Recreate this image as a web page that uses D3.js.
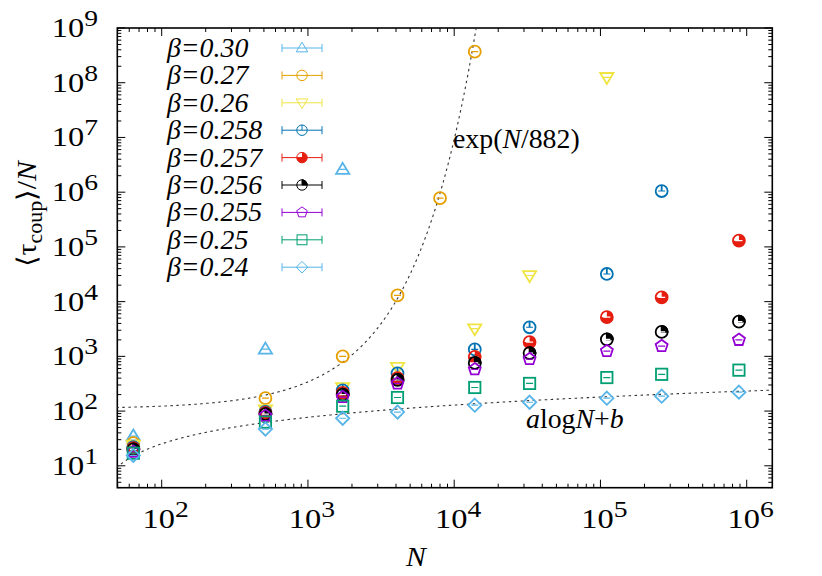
<!DOCTYPE html>
<html><head><meta charset="utf-8">
<script src="https://cdn.jsdelivr.net/npm/d3@7"></script>
<style>html,body{margin:0;padding:0;background:#fff;} svg{display:block;} text{font-family:"Liberation Serif","Times New Roman",serif;}</style>
</head><body>
<svg id="chart" width="822" height="576"></svg>
<script>
// ---- data ----
const sizesN = [64, 512, 1728, 4096, 8000, 13824, 32768, 110592, 262144, 884736];
const betaLabels = ["β=0.30", "β=0.27", "β=0.26", "β=0.258", "β=0.257", "β=0.256", "β=0.255", "β=0.25", "β=0.24"];
const tau030  = [35, 1350, 2.6e6, null, null, null, null, null, null, null];
const tau027  = [26, 172, 1000, 1.3e4, 7.8e5, 3.7e8, null, null, null, null];
const tau026  = [24, 105, 270, 630, null, 3200, 3.0e4, 1.25e8, null, null];
const tau0258 = [22, 97, 240, 490, null, 1340, 3400, 3.2e4, 1.05e6, null];
const tau0257 = [21, 93, 215, 400, null, 980, 1820, 5200, 1.2e4, 1.3e5];
const tau0256 = [20, 88, 200, 370, null, 760, 1150, 2050, 2800, 4300];
const tau0255 = [18, 82, 180, 320, null, 580, 890, 1250, 1540, 2000];
const tau025  = [17, 63, 123, 177, null, 270, 320, 410, 470, 560];
const tau024  = [15.5, 47, 74, 96, null, 128, 145, 172, 187, 222];
const xTickExps = [2, 3, 4, 5, 6];
const yTickExps = [1, 2, 3, 4, 5, 6, 7, 8, 9];
// fit parameters
const expFitA = 110, expFitScale = 882;
const logFitA = 51.8, logFitB = -78.4;

const seriesValues = [tau030, tau027, tau026, tau0258, tau0257, tau0256, tau0255, tau025, tau024];
const colors = ["#56b4e9", "#e69f00", "#f0e442", "#0072b2", "#e51e10", "#000000", "#9400d3", "#009e73", "#56b4e9"];
const shapes = ["triUp", "circle", "triDown", "circleV", "circleQR", "circleQB", "pentagon", "square", "diamond"];

// ---- layout ----
const L = 117.3, R = 772.3, T = 28, B = 487.7;
const svg = d3.select("#chart");
const x = d3.scaleLog().domain([Math.pow(10, 1.6965), Math.pow(10, 6.175)]).range([L, R]);
const y = d3.scaleLog().domain([Math.pow(10, 0.6), 1e9]).range([B, T]);

svg.append("defs").append("clipPath").attr("id", "clip")
  .append("rect").attr("x", L).attr("y", T).attr("width", R - L).attr("height", B - T);

// ---- ticks (all four sides, inward) ----
const tickG = svg.append("g").attr("stroke", "#000").attr("stroke-width", 1);
const xMin = x.domain()[0], xMax = x.domain()[1];
for (let e = 1; e <= 6; e++) {
  for (let m = 1; m <= 9; m++) {
    const v = m * Math.pow(10, e);
    if (v < xMin || v > xMax) continue;
    const px = x(v), len = m === 1 ? 8 : 4;
    tickG.append("line").attr("x1", px).attr("x2", px).attr("y1", B).attr("y2", B - len);
    tickG.append("line").attr("x1", px).attr("x2", px).attr("y1", T).attr("y2", T + len);
  }
}
const yMin = y.domain()[0], yMax = y.domain()[1];
for (let e = 0; e <= 9; e++) {
  for (let m = 1; m <= 9; m++) {
    const v = m * Math.pow(10, e);
    if (v < yMin || v > yMax * 1.0001) continue;
    const py = y(v), len = m === 1 ? 8 : 4;
    tickG.append("line").attr("y1", py).attr("y2", py).attr("x1", L).attr("x2", L + len);
    tickG.append("line").attr("y1", py).attr("y2", py).attr("x1", R).attr("x2", R - len);
  }
}

// ---- frame ----
svg.append("rect").attr("x", L).attr("y", T).attr("width", R - L).attr("height", B - T)
  .attr("fill", "none").attr("stroke", "#000").attr("stroke-width", 1.6);

// ---- tick labels ----
function powLabel(px, py, exp, anchor, sx) {
  const t = svg.append("text")
    .attr("transform", `translate(${px},${py}) scale(${sx},1)`)
    .attr("text-anchor", anchor)
    .attr("font-size", 27).attr("fill", "#000");
  t.append("tspan").text("10");
  t.append("tspan").attr("dy", -11).attr("font-size", 23).text(String(exp));
}
xTickExps.forEach(e => powLabel(x(Math.pow(10, e)) + 4, 528, e, "middle", 1.2));
yTickExps.forEach(e => powLabel(98, y(Math.pow(10, e)) + 9, e, "end", 1.2));

// ---- axis titles ----
svg.append("text").attr("transform", "translate(416,566) scale(1.1,1)")
  .attr("text-anchor", "middle").attr("font-size", 27)
  .attr("font-style", "italic").text("N");
const yt = svg.append("text").attr("transform", "translate(36,214) rotate(-90) scale(1.1,1)")
  .attr("text-anchor", "middle").attr("font-size", 27);
yt.append("tspan").text("⟨τ");
yt.append("tspan").attr("font-size", 20).attr("dy", 6).text("coup");
yt.append("tspan").attr("dy", -6).text("⟩/");
yt.append("tspan").attr("font-style", "italic").text("N");

// ---- fit curves ----
const plotG = svg.append("g").attr("clip-path", "url(#clip)");
const logs = d3.range(1.69, 6.18, 0.005).map(l => Math.pow(10, l));
const expLine = d3.line().x(d => x(d)).y(d => y(expFitA * Math.exp(d / expFitScale)));
const logLine = d3.line().x(d => x(d)).y(d => y(Math.max(logFitA * Math.log10(d) + logFitB, 1)));
const expPts = logs.filter(d => expFitA * Math.exp(d / expFitScale) < 5e9);
plotG.append("path").attr("d", expLine(expPts)).attr("fill", "none")
  .attr("stroke", "#333").attr("stroke-width", 1.1).attr("stroke-dasharray", "2.5,3.5");
plotG.append("path").attr("d", logLine(logs)).attr("fill", "none")
  .attr("stroke", "#333").attr("stroke-width", 1.1).attr("stroke-dasharray", "2.5,3.5");

// annotations
const a1 = svg.append("text").attr("transform", "translate(453,148) scale(1.05,1)")
  .attr("font-size", 26.5);
a1.append("tspan").text("exp(");
a1.append("tspan").attr("font-style", "italic").text("N");
a1.append("tspan").text("/882)");
const a2 = svg.append("text").attr("transform", "translate(526,428) scale(1.05,1)")
  .attr("font-size", 26.5);
a2.append("tspan").attr("font-style", "italic").text("a");
a2.append("tspan").text("log");
a2.append("tspan").attr("font-style", "italic").text("N");
a2.append("tspan").text("+");
a2.append("tspan").attr("font-style", "italic").text("b");

// ---- markers ----
function drawMarker(g, shape, color, r, sw) {
  const s = g.append("g").attr("stroke", color).attr("stroke-width", sw).attr("fill", "none");
  const rr = r * 0.95;
  if (shape === "triUp") {
    s.append("path").attr("d", `M0,${-r * 1.05}L${r * 1.05},${r * 0.7}L${-r * 1.05},${r * 0.7}Z`);
  } else if (shape === "triDown") {
    s.append("path").attr("d", `M0,${r * 1.05}L${r * 1.05},${-r * 0.7}L${-r * 1.05},${-r * 0.7}Z`);
  } else if (shape === "square") {
    s.append("rect").attr("x", -r * 0.9).attr("y", -r * 0.9).attr("width", r * 1.8).attr("height", r * 1.8);
  } else if (shape === "diamond") {
    s.append("path").attr("d", `M0,${-r * 1.05}L${r * 1.05},0L0,${r * 1.05}L${-r * 1.05},0Z`);
  } else if (shape === "pentagon") {
    const pts = d3.range(5).map(i => {
      const a = -Math.PI / 2 + i * 2 * Math.PI / 5;
      return [r * Math.cos(a), r * Math.sin(a)];
    });
    s.append("path").attr("d", "M" + pts.map(p => p.join(",")).join("L") + "Z");
  } else {
    s.append("circle").attr("r", rr);
    if (shape === "circleV") {
      s.append("line").attr("x1", 0).attr("x2", 0).attr("y1", -rr).attr("y2", 0);
    } else if (shape === "circleQR") {
      // three quarters filled (all but upper-left)
      s.append("path").attr("d", `M0,0L${rr},0A${rr},${rr} 0 1 1 ${-rr},0L0,0Z`)
        .attr("d", `M0,0L0,${-rr}A${rr},${rr} 0 1 1 ${-rr},0Z`).attr("fill", color).attr("stroke", "none");
    } else if (shape === "circleQB") {
      s.append("path").attr("d", `M0,0L0,${-rr}A${rr},${rr} 0 0 1 ${rr},0Z`).attr("fill", color);
    }
  }
  return s;
}

// data points
seriesValues.forEach((vals, si) => {
  const g = plotG.append("g");
  sizesN.forEach((n, i) => {
    const v = vals[i];
    if (v == null) return;
    const pg = g.append("g").attr("transform", `translate(${x(n)},${y(v)})`);
    const m = drawMarker(pg, shapes[si], colors[si], 6.3, 1.8);
    m.append("line").attr("x1", -3.5).attr("x2", 3.5).attr("y1", 0).attr("y2", 0)
      .attr("stroke", (shapes[si] === "circleQR" || shapes[si] === "circleQB") ? "#fff" : colors[si]).attr("stroke-width", 1.2);
  });
});

// ---- legend ----
const legY0 = 48, legDy = 27.4;
betaLabels.forEach((lab, i) => {
  const cy = legY0 + i * legDy;
  svg.append("text").attr("transform", `translate(167,${cy + 9}) scale(1.05,1)`)
    .attr("font-size", 26.5).attr("font-style", "italic").attr("fill", "#000").text(lab);
  const lg = svg.append("g").attr("stroke", colors[i]).attr("stroke-width", 1);
  lg.append("line").attr("x1", 282).attr("x2", 322).attr("y1", cy).attr("y2", cy);
  lg.append("line").attr("x1", 282).attr("x2", 282).attr("y1", cy - 4).attr("y2", cy + 4);
  lg.append("line").attr("x1", 322).attr("x2", 322).attr("y1", cy - 4).attr("y2", cy + 4);
  const mg = svg.append("g").attr("transform", `translate(302,${cy})`);
  drawMarker(mg, shapes[i], colors[i], 5.5, 1);
});
</script>
</body></html>
